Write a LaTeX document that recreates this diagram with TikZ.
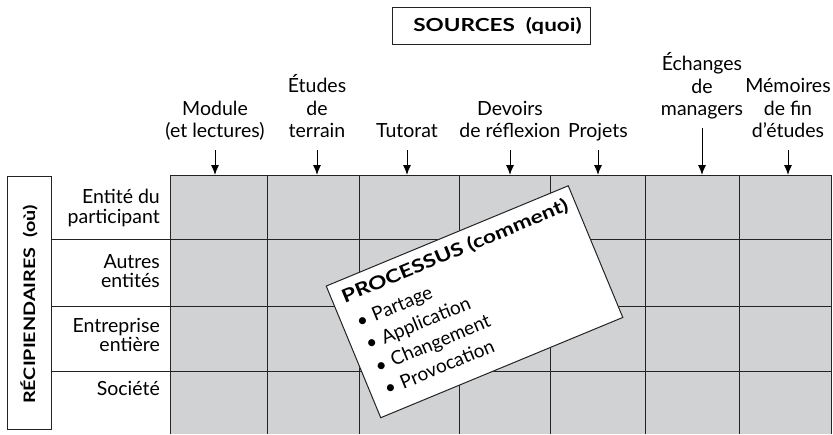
\documentclass[tikz,border=0pt]{standalone}
\usepackage{fontspec}
\setmainfont{Lato}
\newfontfamily\widebold[FakeStretch=1.25]{Lato}
\usetikzlibrary{arrows.meta}

\definecolor{cellgray}{RGB}{209,210,212}
\definecolor{rulegray}{RGB}{35,35,35}

\tikzset{
  hdr/.style={anchor=south, align=center, inner sep=0pt, text depth=4pt,
    font=\fontsize{19.5}{22.5}\selectfont},
  rowlbl/.style={anchor=east, align=right, inner sep=0pt,
    font=\fontsize{19.5}{19.5}\selectfont},
  srcarrow/.style={-{Latex[length=10pt,width=8pt]}, shorten <=8pt, line width=1pt},
  gridline/.style={rulegray, line width=1pt},
  titlebox/.style={draw=rulegray, line width=1pt, inner sep=0pt},
  card/.style={draw=rulegray, fill=white, line width=1pt, inner sep=0pt,
    minimum width=262pt, minimum height=142.5pt},
  cardtext/.style={anchor=north west, align=left, inner xsep=11pt, inner ysep=9pt,
    font=\fontsize{19}{24.5}\selectfont}
}

\begin{document}
\begin{tikzpicture}[x=1pt,y=-1pt]
\useasboundingbox (0,0) rectangle (833,434);

% the two title boxes
\node[titlebox, minimum width=198pt, minimum height=37pt,
  font=\widebold\fontsize{18}{18}\bfseries\selectfont] (sources) at (491,25.5) {\hspace*{13pt}SOURCES\ \ (quoi)};
\node[titlebox, rotate=90, minimum width=253pt, minimum height=44pt,
  font=\widebold\fontsize{15.8}{15.8}\bfseries\selectfont] (recip) at (29,302.5) {RÉCIPIENDAIRES\ \ (où)\hspace*{4pt}};

% grid
\fill[cellgray] (170,175) rectangle (831,434);
\coordinate (gtop) at (170,175);
\draw[gridline] (170,434) -- (170,175) -- (831,175) -- (831,434);
\draw[gridline] (267,175) -- (267,434);
\draw[gridline] (359,175) -- (359,434);
\draw[gridline] (459,175) -- (459,434);
\draw[gridline] (550,175) -- (550,434);
\draw[gridline] (645,175) -- (645,434);
\draw[gridline] (739,175) -- (739,434);
\draw[gridline] (51,239) -- (831,239);
\draw[gridline] (51,306) -- (831,306);
\draw[gridline] (51,371) -- (831,371);

% row labels
\node[rowlbl] (entite) at (160,208) {Entité du\\participant};
\node[rowlbl] (autres) at (160,271) {Autres\\entités};
\node[rowlbl] (entreprise) at (160,335) {Entreprise\\entière};
\node[rowlbl] (societe) at (160,388) {Société};

% column headers
\node[hdr] (modul) at (215,142) {Module\\(et lectures)};
\node[hdr] (etudes) at (317,142) {Études\\de\\terrain};
\node[hdr] (tutorat) at (407,142) {Tutorat};
\node[hdr] (devoirs) at (510,142) {Devoirs\\de réflexion};
\node[hdr] (projets) at (598,142) {Projets};
\node[hdr] (echanges) at (702,120) {Échanges\\de\\managers};
\node[hdr] (memoires) at (788,142) {Mémoires\\de fin\\d'études};

\draw[srcarrow] (modul.south) -- (modul.south |- gtop);
\draw[srcarrow] (etudes.south) -- (etudes.south |- gtop);
\draw[srcarrow] (tutorat.south) -- (tutorat.south |- gtop);
\draw[srcarrow] (devoirs.south) -- (devoirs.south |- gtop);
\draw[srcarrow] (projets.south) -- (projets.south |- gtop);
\draw[srcarrow] (echanges.south) -- (echanges.south |- gtop);
\draw[srcarrow] (memoires.south) -- (memoires.south |- gtop);

% the card on top
\node[card, rotate=22.5] (processus) at (474.5,301.75) {};
\node[cardtext, rotate=22.5] (processustxt) at (processus.north west)
  {{\widebold\fontsize{18.3}{18.3}\bfseries\selectfont PROCESSUS (comment)}\\[4pt]
   \hspace*{4pt}\textbullet\hspace{6pt}Partage\\
   \hspace*{4pt}\textbullet\hspace{6pt}Application\\
   \hspace*{4pt}\textbullet\hspace{6pt}Changement\\
   \hspace*{4pt}\textbullet\hspace{6pt}Provocation};

\end{tikzpicture}
\end{document}
